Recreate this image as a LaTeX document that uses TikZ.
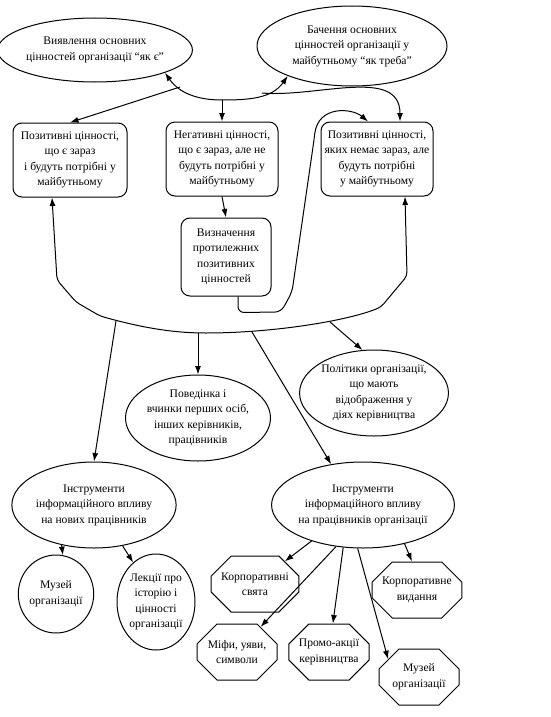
\documentclass[tikz,border=0pt]{standalone}
\usepackage{fontspec}
\setmainfont{Liberation Serif}
\usetikzlibrary{arrows.meta,shapes.geometric,shapes.misc}

\begin{document}
\begin{tikzpicture}[
  x=1pt, y=-1pt, >={Latex[length=8.5pt,width=6pt]}, line width=1pt,
  T/.style={align=center, font=\fontsize{11.6}{15.5}\selectfont, inner sep=0pt},
  oval/.style={T, draw, ellipse},
  rbox/.style={T, draw, rounded corners=9pt, minimum width=112pt, minimum height=74pt},
  octa/.style={T, draw, chamfered rectangle, chamfered rectangle xsep=10pt,
               chamfered rectangle ysep=10pt, minimum width=80pt, minimum height=56pt}]
\useasboundingbox (0,0) rectangle (551,717);

% top: as is / as needed
\node[oval, minimum width=160pt, minimum height=64pt] (asis) at (95,50) {Виявлення основних\\цінностей організації “як є”};
\node[oval, minimum width=190pt, minimum height=80pt] (tobe) at (352,46) {Бачення основних\\цінностей організації у\\майбутньому “як треба”};

% the three value groups
\node[rbox, minimum width=114pt] (keep) at (70,160) {Позитивні цінності,\\що є зараз\\і будуть потрібні у\\майбутньому};
\node[rbox] (neg) at (222,159) {Негативні цінності,\\що є зараз, але не\\будуть потрібні у\\майбутньому};
\node[rbox] (lack) at (377,159) {Позитивні цінності,\\яких немає зараз, але\\будуть потрібні\\у майбутньому};
\node[rbox, minimum width=90pt, minimum height=78pt] (opp) at (226,257) {Визначення\\протилежних\\позитивних\\цінностей};

% what carries the values
\node[oval, minimum width=145pt, minimum height=86pt] (conduct) at (198,418) {Поведінка і\\вчинки перших осіб,\\інших керівників,\\працівників};
\node[oval, minimum width=145pt, minimum height=86pt] (policy) at (374,393) {Політики організації,\\що мають\\відображення у\\діях керівництва};
\node[oval, minimum width=148pt, minimum height=86pt] (newcomers) at (94,505) {Інструменти\\інформаційного впливу\\на нових працівників};
\node[oval, minimum width=144pt, minimum height=86pt] (staff) at (363,505) {Інструменти\\інформаційного впливу\\на працівників організації};

\node[oval, minimum width=68pt, minimum height=78pt] (museumA) at (56,594) {Музей\\організації};
\node[oval, minimum width=78pt, minimum height=96pt] (lectures) at (156,602) {Лекції про\\історію і\\цінності\\організації};

\node[octa] (holidays) at (255,584) {Корпоративні\\свята};
\node[octa] (press) at (417,590) {Корпоративне\\видання};
\node[octa] (myths) at (237,652) {Міфи, уяви,\\символи};
\node[octa] (promo) at (329,652) {Промо-акції\\керівництва};
\node[octa] (museumB) at (419,677) {Музей\\організації};

% connectors
\coordinate (hub) at (222,100);
\coordinate (hubL) at (180,87);
\coordinate (hubR) at (262,93);
\draw[<->] (asis.-18) to[out=-55,in=180] (hub) to[out=0,in=-125] (tobe.-155);
\draw[->] (hub) -- (neg.north);
\draw[->] (hubL) -- (keep.north);
\draw[->] (hubR) to[out=-5,in=90] ([xshift=23pt]lack.north);
\draw[->] (neg.south) -- (opp.north);
\draw[->, rounded corners=6pt] ([xshift=12pt]opp.south) -- ++(0,16) -- (281,312) -- (292,292)
  -- (314,140) .. controls (318,105) and (352,108) .. ([xshift=-9pt]lack.north);
\draw[<->, rounded corners=4pt] ([xshift=-18pt]keep.south) -- (57,280) -- (76,302) -- (100,316)
  .. controls (150,330) and (180,333) .. (210,333) .. controls (280,332) and (350,320) .. (381,307)
  -- (407,276) -- ([xshift=28pt]lack.south);

\coordinate (bL) at (116,321);
\coordinate (bM) at (198,333);
\coordinate (bR) at (252,332);
\coordinate (bRR) at (330,322);
\draw[->] (bL) -- (newcomers.north);
\draw[->] (bM) -- (conduct.north);
\draw[->] (bR) -- (staff.128);
\draw[->] (bRR) -- (policy.105);

\draw[->] (newcomers.-129) -- (museumA.80);
\draw[->] (newcomers.-55) -- (lectures.120);
\draw[->] (staff.-145) -- (holidays);
\draw[->] (staff.-123) -- (myths);
\draw[->] (staff.-115) -- (promo);
\draw[->] (staff.-97) -- (museumB.150);
\draw[->] (staff.-43) -- (press.100);
\end{tikzpicture}
\end{document}
